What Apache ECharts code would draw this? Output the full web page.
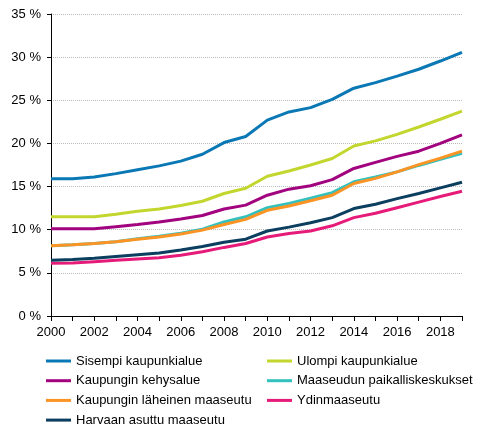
<!DOCTYPE html>
<html>
<head>
<meta charset="utf-8">
<script src="https://cdn.jsdelivr.net/npm/echarts@6/dist/echarts.min.js"></script>
<style>
  html, body { margin: 0; padding: 0; background: #fff; }
  #chart { width: 491px; height: 436px; }
</style>
</head>
<body>
<div id="chart"></div>
<script>
var years = ['2000', '2001', '2002', '2003', '2004', '2005', '2006', '2007', '2008', '2009',
  '2010', '2011', '2012', '2013', '2014', '2015', '2016', '2017', '2018', '2019'];

var names = ['Sisempi kaupunkialue', 'Ulompi kaupunkialue', 'Kaupungin kehysalue',
  'Maaseudun paikalliskeskukset', 'Kaupungin läheinen maaseutu', 'Ydinmaaseutu',
  'Harvaan asuttu maaseutu'];

var sisempi = [15.9, 15.9, 16.1, 16.5, 16.95, 17.4, 17.95, 18.75, 20.1, 20.8,
  22.7, 23.65, 24.15, 25.1, 26.4, 27.05, 27.8, 28.6, 29.55, 30.55];
var ulompi = [11.5, 11.5, 11.5, 11.8, 12.15, 12.4, 12.8, 13.3, 14.2, 14.8,
  16.2, 16.8, 17.5, 18.25, 19.7, 20.3, 21.05, 21.9, 22.8, 23.75];
var kehys = [10.1, 10.1, 10.1, 10.35, 10.6, 10.9, 11.25, 11.65, 12.4, 12.85,
  14.0, 14.7, 15.1, 15.8, 17.1, 17.8, 18.5, 19.1, 20.0, 21.0];
var paikallis = [8.15, 8.25, 8.4, 8.6, 8.95, 9.25, 9.6, 10.05, 10.9, 11.5,
  12.55, 13.05, 13.65, 14.3, 15.55, 16.1, 16.7, 17.45, 18.15, 18.85];
var laheinen = [8.15, 8.25, 8.4, 8.6, 8.9, 9.15, 9.5, 9.95, 10.6, 11.2,
  12.25, 12.75, 13.35, 14.0, 15.35, 15.95, 16.7, 17.55, 18.3, 19.1];
var ydin = [6.1, 6.15, 6.3, 6.45, 6.6, 6.75, 7.05, 7.45, 7.95, 8.4,
  9.15, 9.55, 9.85, 10.45, 11.4, 11.9, 12.55, 13.2, 13.85, 14.45];
var harvaan = [6.45, 6.55, 6.7, 6.9, 7.1, 7.3, 7.65, 8.05, 8.55, 8.9,
  9.85, 10.3, 10.8, 11.4, 12.45, 12.95, 13.6, 14.2, 14.85, 15.5];

var values = [sisempi, ulompi, kehys, paikallis, laheinen, ydin, harvaan];
var colors = ['#0a78b4', '#c3d62e', '#a2037f', '#33c1bd', '#fb9424', '#e61b79', '#0b3e5f'];

var font = '"Liberation Sans", Arial, sans-serif';

var chart = echarts.init(document.getElementById('chart'));

var series = names.map(function (n, i) {
  return {
    name: n,
    type: 'line',
    data: values[i],
    showSymbol: false,
    symbol: 'none',
    lineStyle: { width: 3, color: colors[i] },
    itemStyle: { color: colors[i] }
  };
});

var legendBase = {
  orient: 'vertical',
  top: 349,
  itemWidth: 25,
  itemHeight: 3,
  itemGap: 5.7,
  icon: 'rect',
  textStyle: { fontFamily: font, fontSize: 13, color: '#000', lineHeight: 14 }
};

chart.setOption({
  animation: false,
  textStyle: { fontFamily: font },
  grid: { left: 51, right: 29, top: 14, bottom: 120 },
  legend: [
    Object.assign({}, legendBase, { left: 41, data: [names[0], names[2], names[4], names[6]] }),
    Object.assign({}, legendBase, { left: 262, data: [names[1], names[3], names[5]] })
  ],
  xAxis: {
    type: 'category',
    data: years,
    boundaryGap: false,
    axisLine: { lineStyle: { color: '#000', width: 1 } },
    axisTick: { interval: 0, length: 5, lineStyle: { color: '#000' } },
    axisLabel: { interval: 1, color: '#000', fontSize: 13, fontFamily: font, margin: 10 }
  },
  yAxis: {
    type: 'value',
    min: 0,
    max: 35,
    interval: 5,
    axisLine: { show: true, lineStyle: { color: '#000', width: 1 } },
    axisTick: { show: true, length: 4, lineStyle: { color: '#000' } },
    axisLabel: { formatter: '{value} %', color: '#000', fontSize: 13, fontFamily: font, margin: 10 },
    splitLine: { lineStyle: { color: '#bcbcbc', type: 'dotted', width: 1 } }
  },
  series: series
});
</script>
</body>
</html>
